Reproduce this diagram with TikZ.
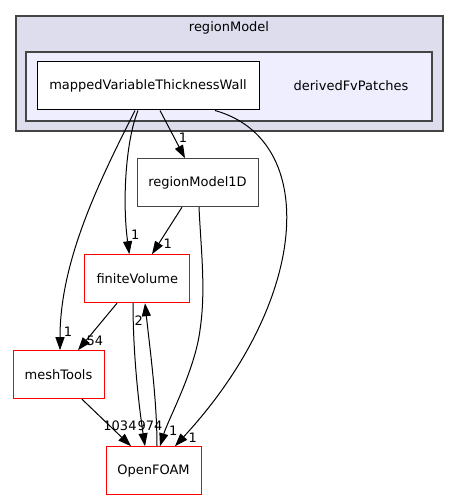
\documentclass[tikz,border=0pt]{standalone}
\usepackage{fontspec}
\setmainfont{DejaVu Sans}
\usetikzlibrary{arrows.meta}
\definecolor{outerfill}{HTML}{DDDDEE}
\definecolor{innerfill}{HTML}{EEEEFF}
\definecolor{clborder}{HTML}{444444}
\begin{document}
\begin{tikzpicture}[x=1pt,y=-1pt,
  every node/.style={font=\fontsize{13}{15}\selectfont},
  dirbox/.style={draw=black, fill=white, line width=1pt, inner sep=0pt, minimum height=48pt},
  redbox/.style={draw=red, fill=white, line width=1pt, inner sep=0pt, minimum height=48pt},
  dep/.style={-{Triangle[length=13pt,width=9pt]}, line width=1pt, black},
  elabel/.style={inner sep=0pt, font=\fontsize{13}{15}\selectfont}]
\useasboundingbox (0,0) rectangle (459,500);
% clusters
\draw[fill=outerfill, draw=clborder, line width=1.2pt] (16,16) rectangle (443,131);
\node[inner sep=0pt] (lblRM) at (229,28) {regionModel};
\draw[fill=innerfill, draw=clborder, line width=1.2pt] (26,52) rectangle (432,121);
\node[inner sep=0pt] (lblDF) at (351,86) {derivedFvPatches};
% nodes
\node[dirbox, minimum width=222pt] (mvtw) at (148,86) {mappedVariableThicknessWall};
\node[dirbox, draw=clborder, minimum width=121pt] (rm1d) at (197.5,182.7) {regionModel1D};
\node[redbox, minimum width=104.7pt] (fv) at (137.3,278.7) {finiteVolume};
\node[redbox, minimum width=91pt] (mt) at (58.5,374.7) {meshTools};
\node[redbox, minimum width=95pt] (of) at (153.5,470.7) {OpenFOAM};
% edges
\draw[dep] ([xshift=12pt]mvtw.south) -- ([xshift=-12.5pt]rm1d.north);
\node[elabel] (l1) at (183,138) {1};
\draw[dep] ([xshift=-10pt]mvtw.south) .. controls (126,140) and (122,200) .. ([xshift=-8pt]fv.north);
\node[elabel] (l2) at (135.3,234.3) {1};
\draw[dep] ([xshift=-13pt]mvtw.south) .. controls (100,180) and (60,260) .. ([xshift=1.5pt]mt.north);
\node[elabel] (l3) at (68,331.7) {1};
\draw[dep] ([xshift=67pt]mvtw.south) .. controls (320,140) and (310,300) .. ([xshift=21.5pt]of.north);
\node[elabel] (l4) at (192.7,437.3) {1};
\draw[dep] ([xshift=-15.5pt]rm1d.south) -- ([xshift=14.7pt]fv.north);
\node[elabel] (l5) at (167.7,243.3) {1};
\draw[dep] ([xshift=1.5pt]rm1d.south) .. controls (201,250) and (206,290) .. (200,330) .. controls (195,370) and (168,420) .. ([xshift=6.5pt]of.north);
\node[elabel] (l6) at (173.3,430.7) {1};
\draw[dep] ([xshift=-20.3pt]fv.south) -- ([xshift=19.5pt]mt.north);
\node[elabel] (l7) at (95,340.7) {54};
\draw[dep] ([xshift=-4.3pt]fv.south) .. controls (133,350) and (138,400) .. ([xshift=-8.5pt]of.north);
\node[elabel] (l8) at (138.7,320.7) {2};
\draw[dep] ([xshift=3.5pt]of.north) .. controls (157,400) and (150,350) .. ([xshift=7.7pt]fv.south);
\node[elabel] (l9) at (150,426) {974};
\draw[dep] ([xshift=23.5pt]mt.south) -- ([xshift=-22.5pt]of.north);
\node[elabel] (l10) at (120,426) {1034};
\end{tikzpicture}
\end{document}
